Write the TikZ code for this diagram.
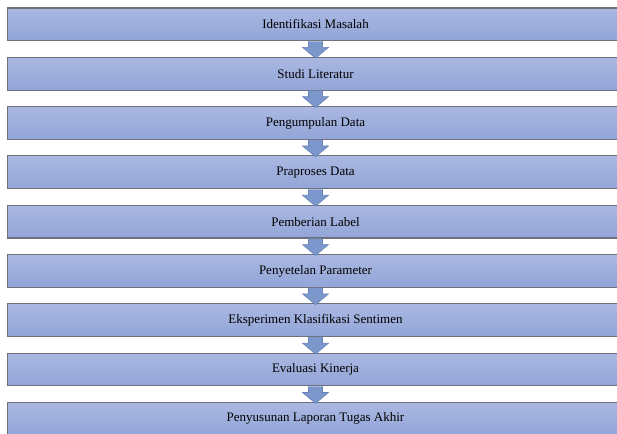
\documentclass[tikz,border=0pt]{standalone}
\usepackage{fontspec}
\setmainfont{Liberation Serif}
\usetikzlibrary{calc}
\definecolor{boxtop}{HTML}{AAB8E2}
\definecolor{boxbot}{HTML}{92A5D7}
\definecolor{boxline}{HTML}{6F727C}
\definecolor{arrfill}{HTML}{7C97CB}
\definecolor{arrline}{HTML}{6682B8}
\tikzset{
  stagebox/.style={rectangle, draw=boxline, line width=1.1pt, top color=boxtop, bottom color=boxbot,
    minimum width=616pt, minimum height=32.8pt, inner sep=0pt,
    font=\fontsize{13}{15}\selectfont, text=black},
  downarrow/.style={fill=arrfill, draw=arrline, line width=0.6pt, line join=miter}
}
\begin{document}
\begin{tikzpicture}[x=1pt,y=-1pt]
\useasboundingbox (0,0) rectangle (617,433);
\foreach \i/\t in {1/Identifikasi Masalah, 2/Studi Literatur, 3/Pengumpulan Data, 4/Praproses Data,
  5/Pemberian Label, 6/Penyetelan Parameter, 7/Eksperimen Klasifikasi Sentimen, 8/Evaluasi Kinerja,
  9/Penyusunan Laporan Tugas Akhir}{
  \node[stagebox] (b\i) at (315.5, {8+49.3*(\i-1)+16.4}) {\t};
}
\foreach \i [evaluate=\i as \j using int(\i+1)] in {1,...,8}{
  \path[downarrow] ($(b\i.south)+(-7,0)$) -- ($(b\i.south)+(-7,6)$) -- ($(b\i.south)+(-13,6)$)
    -- ($(b\j.north)+(0,1.5)$) -- ($(b\i.south)+(13,6)$) -- ($(b\i.south)+(7,6)$)
    -- ($(b\i.south)+(7,0)$);
}
\end{tikzpicture}
\end{document}
